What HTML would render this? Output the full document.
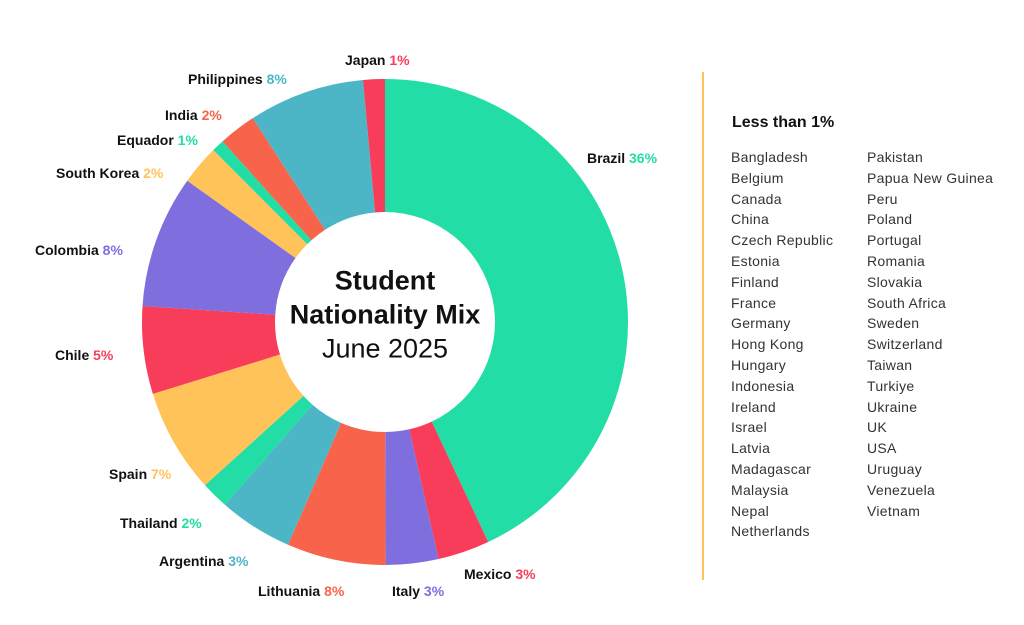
<!DOCTYPE html>
<html><head><meta charset="utf-8"><style>
body{margin:0;width:1024px;height:625px;background:#fff;font-family:"Liberation Sans",sans-serif;position:relative;overflow:hidden}
.lb{position:absolute;font-weight:bold;font-size:14px;color:#111;white-space:nowrap;transform:translateY(-50%)}
.r{transform:translate(-100%,-50%)}
.c{position:absolute;left:385px;transform:translate(-50%,-50%);white-space:nowrap;color:#111}
.li{position:absolute;font-size:14px;color:#333;white-space:nowrap;letter-spacing:0.3px}
</style></head><body>
<svg id="chart" width="1024" height="625" style="position:absolute;left:0;top:0"></svg>
<div class="c" style="top:281px;font-size:27px;font-weight:bold">Student</div>
<div class="c" style="top:315px;font-size:27px;font-weight:bold">Nationality Mix</div>
<div class="c" style="top:349px;font-size:27px;font-weight:300">June 2025</div>
<div style="position:absolute;left:702px;top:72px;width:2px;height:508px;background:#FFC35A"></div>
<div style="position:absolute;left:732px;top:114px;font-size:16px;font-weight:bold;color:#111">Less than 1%</div>
<div id="labels"></div>
<div id="list"></div>
<script>
const countries=["Brazil","Mexico","Italy","Lithuania","Argentina","Thailand","Spain","Chile","Colombia","South Korea","Equador","India","Philippines","Japan"];
const shares=[155,12.4,12.6,23.7,17.7,6.6,25,21,31.8,9.5,3,9,27.8,5.2];
const pctLabels=["36%","3%","3%","8%","3%","2%","7%","5%","8%","2%","1%","2%","8%","1%"];
const colors=["#22DDA6","#F73D5A","#7F6EDD","#F7644B","#4DB6C6","#22DDA6","#FFC35A","#F73D5A","#7F6EDD","#FFC35A","#22DDA6","#F7644B","#4DB6C6","#F73D5A"];
const labelPos=[[587,158,0],[464,574,0],[392,591,0],[258,591,0],[159,561,0],[120,523,0],[109,474,0],[55,355,0],[35,250,0],[56,173,0],[117,140,0],[165,115,0],[188,79,0],[345,60,0]];
const col1=["Bangladesh","Belgium","Canada","China","Czech Republic","Estonia","Finland","France","Germany","Hong Kong","Hungary","Indonesia","Ireland","Israel","Latvia","Madagascar","Malaysia","Nepal","Netherlands"];
const col2=["Pakistan","Papua New Guinea","Peru","Poland","Portugal","Romania","Slovakia","South Africa","Sweden","Switzerland","Taiwan","Turkiye","Ukraine","UK","USA","Uruguay","Venezuela","Vietnam"];
const cx=385,cy=322,R=243,r=110;
const svg=document.getElementById('chart');
const total=shares.reduce((a,b)=>a+b,0);
function pt(a,rad){return [cx+rad*Math.sin(a),cy-rad*Math.cos(a)];}
let acc=0;
shares.forEach((v,i)=>{
 const a0=acc/total*2*Math.PI; acc+=v; const a1=acc/total*2*Math.PI;
 const large=(a1-a0)>Math.PI?1:0;
 const [x0,y0]=pt(a0,R),[x1,y1]=pt(a1,R),[x2,y2]=pt(a1,r),[x3,y3]=pt(a0,r);
 const p=document.createElementNS('http://www.w3.org/2000/svg','path');
 p.setAttribute('d',`M${x0},${y0}A${R},${R} 0 ${large} 1 ${x1},${y1}L${x2},${y2}A${r},${r} 0 ${large} 0 ${x3},${y3}Z`);
 p.setAttribute('fill',colors[i]);
 
 
 svg.appendChild(p);
});
const L=document.getElementById('labels');
countries.forEach((c,i)=>{
 const d=document.createElement('div');
 d.className='lb';
 d.style.left=labelPos[i][0]+'px';d.style.top=labelPos[i][1]+'px';
 d.innerHTML=c+' <span style="color:'+colors[i]+'">'+pctLabels[i]+'</span>';
 
 
 L.appendChild(d);
});
const LS=document.getElementById('list');
[[col1,731],[col2,867]].forEach(([arr,x])=>arr.forEach((n,i)=>{
 const d=document.createElement('div');
 d.className='li';
 d.style.left=x+'px';d.style.top=(149+i*20.8)+'px';
 d.textContent=n;
 
 
 LS.appendChild(d);
}));
</script>
</body></html>
